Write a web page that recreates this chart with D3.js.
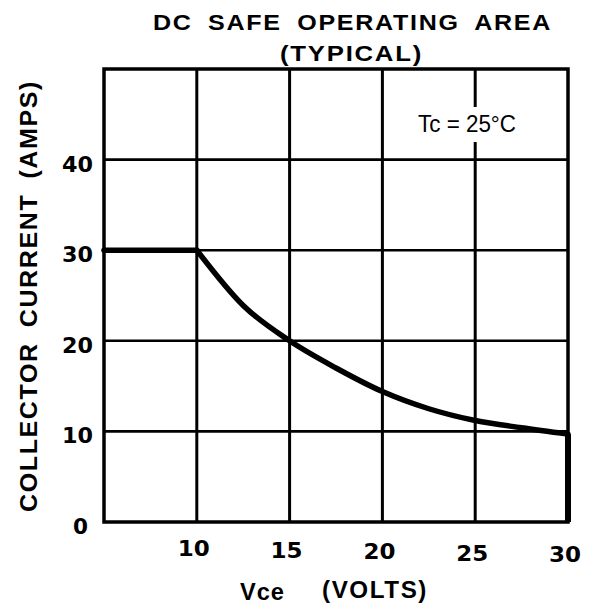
<!DOCTYPE html>
<html><head><meta charset="utf-8">
<script src="https://cdn.jsdelivr.net/npm/d3@7"></script>
<style>body{margin:0;background:#fff}svg{display:block}text{font-family:"Liberation Sans",Arial,sans-serif;fill:#000}</style>
</head><body><svg id="c" width="595" height="607"></svg>
<script>
const vce = [5, 10, 12.5, 15, 17.5, 20, 22.5, 25, 27.5, 30, 30];
const ic  = [30, 30, 23.9, 20, 17.0, 14.4, 12.5, 11.2, 10.4, 9.7, 0];
const xTicks = [10, 15, 20, 25, 30];
const yTicks = [0, 10, 20, 30, 40];
const xGrid = [10, 15, 20, 25];
const yGrid = [10, 20, 30, 40];
const titleLines = ["DC SAFE OPERATING AREA", "(TYPICAL)"];
const yTitle = "COLLECTOR CURRENT (AMPS)";
const xTitleParts = ["Vce", "(VOLTS)"];
const note = "Tc = 25°C";

const svg = d3.select("#c");
const L = 104, R = 568, T = 69, B = 522;
const x = d3.scaleLinear().domain([5, 30]).range([L, R]);
const y = d3.scaleLinear().domain([0, 50]).range([B, T]);
const SG = "spacingAndGlyphs";
const DJ = "'DejaVu Sans', sans-serif";

// grid
svg.append("g").selectAll("line").data(xGrid).join("line")
  .attr("x1", d => x(d)).attr("x2", d => x(d)).attr("y1", T).attr("y2", B)
  .attr("stroke", "#000").attr("stroke-width", 3);
svg.append("g").selectAll("line").data(yGrid).join("line")
  .attr("x1", L).attr("x2", R).attr("y1", d => y(d)).attr("y2", d => y(d))
  .attr("stroke", "#000").attr("stroke-width", 2.6);

// border
svg.append("rect").attr("x", L).attr("y", T).attr("width", R - L).attr("height", B - T)
  .attr("fill", "none").attr("stroke", "#000").attr("stroke-width", 3.5);

// note with white background
svg.append("rect").attr("x", 414).attr("y", 107).attr("width", 106).attr("height", 35).attr("fill", "#fff");
svg.append("text").attr("x", 418).attr("y", 132)
  .attr("font-size", 24).attr("textLength", 98).attr("lengthAdjust", SG).text(note);

// curve: flat part + falling part + drop at 30 V
const pts = vce.map((v, i) => [v, ic[i]]);
const flat = pts.slice(0, 2);
const fall = pts.slice(1, pts.length - 1);
const drop = pts.slice(pts.length - 2);
const lineLin = d3.line().x(d => x(d[0])).y(d => y(d[1]));
const lineCurve = d3.line().x(d => x(d[0])).y(d => y(d[1])).curve(d3.curveMonotoneX);
svg.append("path").attr("d", lineLin(flat))
  .attr("fill", "none").attr("stroke", "#000").attr("stroke-width", 5.5).attr("stroke-linecap", "round");
svg.append("path").attr("d", lineCurve(fall))
  .attr("fill", "none").attr("stroke", "#000").attr("stroke-width", 5.5).attr("stroke-linecap", "round");
svg.append("path").attr("d", lineLin(drop))
  .attr("fill", "none").attr("stroke", "#000").attr("stroke-width", 6);

// y tick labels
svg.append("g").selectAll("text").data(yTicks).join("text")
  .style("font-family", DJ)
  .attr("x", d => d === 0 ? 73 : 62).attr("y", d => y(d) + 12)
  .attr("font-size", 22).attr("font-weight", "bold")
  .attr("textLength", d => String(d).length === 2 ? 31 : 15).attr("lengthAdjust", SG)
  .text(d => d);
// x tick labels
svg.append("g").selectAll("text").data(xTicks).join("text")
  .style("font-family", DJ)
  .attr("x", d => x(d) - 3 - 16).attr("y", d => 556 + (d - 10) * 0.3)
  .attr("font-size", 22).attr("font-weight", "bold")
  .attr("textLength", 32).attr("lengthAdjust", SG).text(d => d);

// titles
svg.append("text").attr("x", 153).attr("y", 30)
  .attr("font-size", 22).attr("font-weight", "bold")
  .attr("letter-spacing", 1.5).attr("word-spacing", 6)
  .attr("textLength", 399).attr("lengthAdjust", SG).text(titleLines[0]);
svg.append("text").attr("x", 280).attr("y", 61)
  .attr("font-size", 22).attr("font-weight", "bold").attr("letter-spacing", 1.5)
  .attr("textLength", 143).attr("lengthAdjust", SG).text(titleLines[1]);
svg.append("text").attr("transform", "translate(37,512) rotate(-90)")
  .attr("font-size", 23).attr("font-weight", "bold")
  .attr("letter-spacing", 1.5).attr("word-spacing", 6)
  .attr("textLength", 432).attr("lengthAdjust", SG).text(yTitle);
svg.append("text").attr("x", 240).attr("y", 600)
  .attr("font-size", 24).attr("font-weight", "bold").attr("letter-spacing", 1)
  .attr("textLength", 45).attr("lengthAdjust", SG).text(xTitleParts[0]);
svg.append("text").attr("x", 322).attr("y", 598)
  .attr("font-size", 23).attr("font-weight", "bold").attr("letter-spacing", 1.5)
  .attr("textLength", 106).attr("lengthAdjust", SG).text(xTitleParts[1]);
</script></body></html>
